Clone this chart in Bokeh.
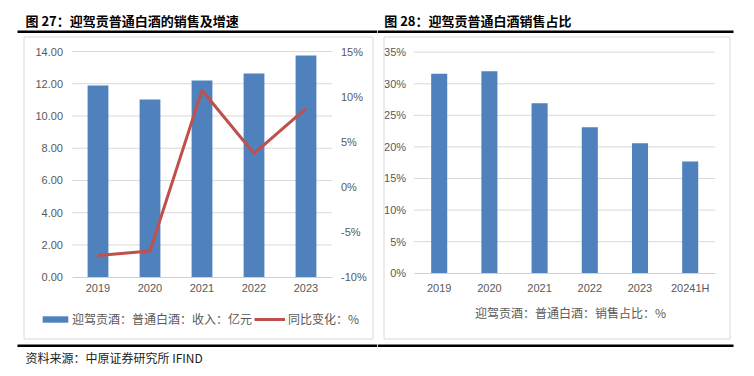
from bokeh.plotting import figure
from bokeh.models import (Range1d, LinearAxis, FixedTicker, NumeralTickFormatter,
                          PrintfTickFormatter, Label, BoxAnnotation, Legend, LegendItem)
from bokeh.layouts import row
from bokeh.embed import file_html
from bokeh.resources import INLINE

# ---------------- data ----------------
years = ["2019", "2020", "2021", "2022", "2023"]
revenue = [11.89, 11.02, 12.20, 12.64, 13.75]          # 亿元
yoy = [-7.6, -7.1, 10.7, 3.7, 8.7]                      # %
left_ticks = [0, 2, 4, 6, 8, 10, 12, 14]
right_ticks = [-10, -5, 0, 5, 10, 15]

share_cats = ["2019", "2020", "2021", "2022", "2023", "20241H"]
share = [31.6, 32.0, 26.9, 23.1, 20.6, 17.7]            # %
share_ticks = [0, 5, 10, 15, 20, 25, 30, 35]

title_left = "图 27：迎驾贡普通白酒的销售及增速"
title_right = "图 28：迎驾贡普通白酒销售占比"
legend_rev = "迎驾贡酒：普通白酒：收入：亿元"
legend_yoy = "同比变化：%"
legend_share = "迎驾贡酒：普通白酒：销售占比：%"
source_text = "资料来源：中原证券研究所 IFIND"

# ---------------- styles / layout ----------------
BLUE = "#4F81BD"
RED = "#C0504D"
GRID = "#D9D9D9"
BOXC = "#D9D9D9"
TXT = "#595959"
CJK = "Noto Sans CJK SC"
NUM = "Liberation Sans"
W, H = 377, 376


def make_fig(x_range, y_range):
    p = figure(width=W, height=H, x_range=x_range, y_range=y_range,
               output_backend="svg", toolbar_location=None,
               x_axis_location=None, y_axis_location=None,
               min_border=0, min_border_left=0, min_border_right=0,
               min_border_top=0, min_border_bottom=0)
    p.title.visible = False
    p.outline_line_color = None
    p.grid.visible = False
    p.background_fill_color = "white"
    p.border_fill_color = "white"
    return p


def style_axis(ax, standoff):
    ax.axis_line_color = None
    ax.major_tick_line_color = None
    ax.minor_tick_line_color = None
    ax.major_tick_out = 0
    ax.major_tick_in = 0
    ax.major_label_standoff = standoff
    ax.major_label_text_color = TXT
    ax.major_label_text_font = NUM
    ax.major_label_text_font_size = "11px"


def add_label(p, X, Y, text, size, color, align="left", bold=False, font=CJK):
    p.add_layout(Label(x=X, y=H - Y, x_units="screen", y_units="screen", text=text,
                       text_font_size=f"{size}px", text_color=color, text_align=align,
                       text_baseline="middle", text_font_style="bold" if bold else "normal",
                       text_font=font))


def add_box(p, X0, Y0, X1, Y1, fill=None, line=None):
    p.add_layout(BoxAnnotation(left=X0, right=X1, top=H - Y0, bottom=H - Y1,
                               left_units="screen", right_units="screen",
                               top_units="screen", bottom_units="screen",
                               fill_color=fill if fill else "white", fill_alpha=1 if fill else 0,
                               line_color=line if line else "white", line_width=1,
                               line_alpha=1 if line else 0, level="overlay"))


def decorations(p, title, tx, line_x0, line_x1, box_x0, box_x1):
    add_label(p, tx, 20, title, 13, "#000000", bold=True)
    add_box(p, line_x0, 30, line_x1, 32.4, fill="#000000")
    add_box(p, box_x0, 36.5, box_x1, 338.5, line=BOXC)
    add_box(p, line_x0, 344, line_x1, 346.4, fill="#000000")


# ---------------- left chart ----------------
CX0_L, CXS_L = 97.5, 52.0            # first category centre (px), category step (px)
Y0_L, YTOP_L = 276.7, 51.0           # pixel rows of lowest and highest tick
sc = (Y0_L - YTOP_L) / (left_ticks[-1] - left_ticks[0])
psc = (Y0_L - YTOP_L) / (right_ticks[-1] - right_ticks[0])
xr_L = Range1d(-CX0_L / CXS_L, (W - CX0_L) / CXS_L)
yr_L = Range1d(left_ticks[0] - (H - Y0_L) / sc, left_ticks[0] + Y0_L / sc)
p1 = make_fig(xr_L, yr_L)
p1.extra_y_ranges = {"pct": Range1d(right_ticks[0] - (H - Y0_L) / psc, right_ticks[0] + Y0_L / psc)}

xi = list(range(len(years)))
lo, hi = -0.5, len(years) - 0.5
p1.segment(x0=[lo] * (len(left_ticks) - 1), x1=[hi] * (len(left_ticks) - 1),
           y0=left_ticks[1:], y1=left_ticks[1:], line_color=GRID, line_width=1)
bars1 = p1.vbar(x=xi, top=revenue, width=0.40, fill_color=BLUE, line_color=None)
line1 = p1.line(x=xi, y=yoy, y_range_name="pct", line_color=RED, line_width=3)

ax_l = LinearAxis(ticker=FixedTicker(ticks=left_ticks), formatter=NumeralTickFormatter(format="0.00"),
                  fixed_location=lo)
style_axis(ax_l, 9)
p1.add_layout(ax_l, "left")
ax_r = LinearAxis(y_range_name="pct", ticker=FixedTicker(ticks=right_ticks),
                  formatter=PrintfTickFormatter(format="%d%%"), fixed_location=hi)
style_axis(ax_r, 9)
p1.add_layout(ax_r, "right")
ax_b = LinearAxis(ticker=FixedTicker(ticks=xi), fixed_location=0, bounds=(lo, hi),
                  major_label_overrides={i: y for i, y in enumerate(years)})
style_axis(ax_b, 7)
ax_b.axis_line_color = "#D0D0D0"
p1.add_layout(ax_b, "below")

leg_common = dict(orientation="horizontal", glyph_height=8, label_height=14,
                  padding=0, margin=0, spacing=0, border_line_color=None, background_fill_alpha=0,
                  label_text_font=CJK, label_text_font_size="12px", label_text_color=TXT)
p1.add_layout(Legend(items=[LegendItem(label=legend_rev, renderers=[bars1])],
                     location=(39, H - 327), glyph_width=32, label_standoff=1, **leg_common), "center")
p1.add_layout(Legend(items=[LegendItem(label=legend_yoy, renderers=[line1])],
                     location=(254, H - 327), glyph_width=31, label_standoff=3, **leg_common), "center")

decorations(p1, title_left, 25, 17, W, 23.5, 372.5)
add_label(p1, 25, 357, source_text, 12, "#222222")

# ---------------- right chart ----------------
CX0_R, CXS_R = 61.7, 50.2
Y0_R, YTOP_R = 272.7, 51.7
sc2 = (Y0_R - YTOP_R) / (share_ticks[-1] - share_ticks[0])
xr_R = Range1d(-CX0_R / CXS_R, (W - CX0_R) / CXS_R)
yr_R = Range1d(share_ticks[0] - (H - Y0_R) / sc2, share_ticks[0] + Y0_R / sc2)
p2 = make_fig(xr_R, yr_R)

xi2 = list(range(len(share_cats)))
lo2, hi2 = -0.5, len(share_cats) - 0.5
p2.segment(x0=[lo2] * (len(share_ticks) - 1), x1=[hi2] * (len(share_ticks) - 1),
           y0=share_ticks[1:], y1=share_ticks[1:], line_color=GRID, line_width=1)
p2.vbar(x=xi2, top=share, width=0.32, fill_color=BLUE, line_color=None)

ax_l2 = LinearAxis(ticker=FixedTicker(ticks=share_ticks), formatter=PrintfTickFormatter(format="%d%%"),
                   fixed_location=lo2)
style_axis(ax_l2, 8)
p2.add_layout(ax_l2, "left")
ax_b2 = LinearAxis(ticker=FixedTicker(ticks=xi2), fixed_location=0, bounds=(lo2, hi2),
                   major_label_overrides={i: c for i, c in enumerate(share_cats)})
style_axis(ax_b2, 9)
ax_b2.axis_line_color = "#D0D0D0"
p2.add_layout(ax_b2, "below")

decorations(p2, title_right, 6.7, 0, 356, 6.5, 352.5)
add_label(p2, 193, 312.3, legend_share, 12, TXT, align="center")

layout = row(p1, p2)
open("out.html", "w").write(file_html(layout, INLINE))
